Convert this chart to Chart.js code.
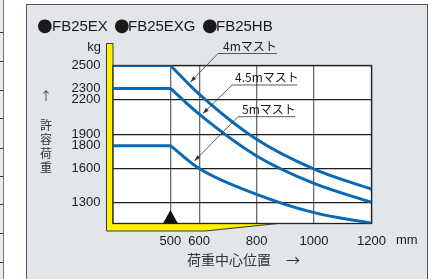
<!DOCTYPE html>
<html>
<head>
<meta charset="utf-8">
<script src="https://cdn.jsdelivr.net/npm/chart.js@4"></script>
<style>
  html, body { margin: 0; padding: 0; background: #fff; }
  canvas { display: block; }
</style>
</head>
<body>
<canvas id="load-chart" width="437" height="279"></canvas>
<script>
// load centre (mm) and allowable load (kg) per mast height
const loadCenters = [500, 600, 800, 1000, 1200];
const mast4m = [2500, 2250, 1855, 1595, 1420];
const mast45m = [2300, 2075, 1710, 1470, 1305];
const mast5m = [1800, 1600, 1375, 1215, 1122];

const xMin = 300;
const xMax = 1200;
const yMin = 1120;
const yMax = 2500;
const xTicks = [500, 600, 800, 1000, 1200];
const yTicks = [1300, 1600, 1800, 1900, 2200, 2300, 2500];
const yGridLines = [1300, 1600, 1900, 2200, 2500];

const models = ['FB25EX', 'FB25EXG', 'FB25HB'];
const mastNames = ['4mマスト', '4.5mマスト', '5mマスト'];

const blue = '#0a69b4';
const textColor = '#1a1a1a';
const font = '"Liberation Sans", Arial, "Noto Sans CJK JP", sans-serif';
const jpFont = '"Noto Sans CJK JP", "Liberation Sans", sans-serif';

function curve(values) {
    return {
        data: loadCenters.map((x, i) => ({x: x, y: values[i]})),
        borderColor: blue,
        borderWidth: 3,
        pointRadius: 0,
        cubicInterpolationMode: 'monotone',
        borderCapStyle: 'butt'
    };
}

function flat(values) {
    return {
        data: [{x: xMin, y: values[0]}, {x: loadCenters[0], y: values[0]}],
        borderColor: blue,
        borderWidth: 3,
        pointRadius: 0,
        tension: 0
    };
}

const decorations = {
    id: 'decorations',
    beforeDraw(chart) {
        const c = chart.ctx;
        const a = chart.chartArea;
        c.save();
        c.fillStyle = '#fff';
        c.fillRect(0, 0, chart.width, chart.height);

        // table edge on the far left
        c.fillStyle = '#e9e9e9';
        c.fillRect(0, 0, 3, chart.height);
        c.strokeStyle = '#333';
        c.lineWidth = 1;
        [32, 61, 90, 118, 148, 176, 204, 233, 262].forEach(y => {
            c.beginPath();
            c.moveTo(0, y + 0.5);
            c.lineTo(3.5, y + 0.5);
            c.stroke();
        });
        c.strokeStyle = '#777';
        c.beginPath();
        c.moveTo(3.5, 0);
        c.lineTo(3.5, chart.height);
        c.stroke();

        // panel
        c.fillStyle = '#e2e6ea';
        c.fillRect(26, 4, 401, 280);
        c.strokeStyle = '#555';
        c.strokeRect(26.5, 4.5, 401, 290);

        // yellow frame
        c.beginPath();
        c.moveTo(106.5, 43.5);
        c.lineTo(a.left, 43.5);
        c.lineTo(a.left, a.bottom);
        c.lineTo(278, a.bottom);
        c.lineTo(205, 231);
        c.lineTo(106.5, 231);
        c.closePath();
        c.fillStyle = '#fff200';
        c.fill();
        c.strokeStyle = '#3a3a3a';
        c.lineWidth = 1;
        c.stroke();

        // plot background
        c.fillStyle = '#fff';
        c.fillRect(a.left, a.top, a.right - a.left, a.bottom - a.top);

        // model names
        c.fillStyle = textColor;
        c.textBaseline = 'middle';
        c.textAlign = 'left';
        const dotX = [37, 114, 202];
        const nameX = [52, 128, 216];
        models.forEach((m, i) => {
            c.font = '18px "DejaVu Sans", sans-serif';
            c.fillText('●', dotX[i], 26.5);
            c.font = '15px ' + font;
            c.fillText(m, nameX[i], 26.5);
        });

        c.font = '13px ' + font;
        c.textAlign = 'right';
        c.fillText('kg', 101, 47.5);
        c.textAlign = 'left';
        c.fillText('mm', 396, 240.5);

        c.fillStyle = '#333';
        c.textAlign = 'center';
        c.font = '12px ' + jpFont;
        c.fillText('↑', 46, 96);
        ['許', '容', '荷', '重'].forEach((ch, i) => c.fillText(ch, 46, 125 + i * 14));
        c.textAlign = 'left';
        c.font = '14px ' + jpFont;
        c.fillText('荷重中心位置', 187, 260);
        c.fillText('→', 286, 260);
        c.restore();
    },
    beforeDatasetsDraw(chart) {
        const c = chart.ctx;
        const a = chart.chartArea;
        c.save();
        c.strokeStyle = '#222';
        c.lineWidth = 1.3;
        c.strokeRect(a.left, a.top, a.right - a.left, a.bottom - a.top);
        c.restore();
    },
    afterDatasetsDraw(chart) {
        const c = chart.ctx;
        const a = chart.chartArea;
        const xs = chart.scales.x;
        c.save();
        // load centre marker
        const mx = xs.getPixelForValue(loadCenters[0]);
        c.fillStyle = '#111';
        c.beginPath();
        c.moveTo(mx - 7.5, a.bottom);
        c.lineTo(mx + 7.5, a.bottom);
        c.lineTo(mx, a.bottom - 13.5);
        c.closePath();
        c.fill();

        // mast labels with leader lines
        const notes = [
            {tx: 223, ty: 46.5, u0: 218, u1: 277, uy: 53.5, px: 190.5, py: 82},
            {tx: 235, ty: 77.5, u0: 232, u1: 297, uy: 85, px: 203, py: 113.5},
            {tx: 242, ty: 109, u0: 238, u1: 295, uy: 116.7, px: 194.5, py: 161}
        ];
        c.font = '12px ' + jpFont;
        c.textBaseline = 'middle';
        c.textAlign = 'left';
        notes.forEach((n, i) => {
            c.fillStyle = textColor;
            c.fillText(mastNames[i], n.tx, n.ty);
            c.strokeStyle = '#333';
            c.lineWidth = 0.8;
            c.beginPath();
            c.moveTo(n.u1, n.uy);
            c.lineTo(n.u0, n.uy);
            c.lineTo(n.px, n.py);
            c.stroke();
            const ang = Math.atan2(n.py - n.uy, n.px - n.u0);
            c.fillStyle = '#333';
            c.beginPath();
            c.moveTo(n.px, n.py);
            c.lineTo(n.px - 6 * Math.cos(ang) + 2 * Math.sin(ang), n.py - 6 * Math.sin(ang) - 2 * Math.cos(ang));
            c.lineTo(n.px - 6 * Math.cos(ang) - 2 * Math.sin(ang), n.py - 6 * Math.sin(ang) + 2 * Math.cos(ang));
            c.closePath();
            c.fill();
        });
        c.restore();
    }
};

const chart = new Chart(document.getElementById('load-chart'), {
    type: 'line',
    data: {
        datasets: [
            flat(mast4m), curve(mast4m),
            flat(mast45m), curve(mast45m),
            flat(mast5m), curve(mast5m)
        ]
    },
    options: {
        responsive: false,
        devicePixelRatio: 1,
        animation: false,
        layout: {
            padding: {left: 0, top: 65.5, right: 65.5, bottom: 0}
        },
        plugins: {
            legend: {display: false},
            tooltip: {enabled: false}
        },
        scales: {
            x: {
                type: 'linear',
                min: xMin,
                max: xMax,
                afterBuildTicks: s => { s.ticks = xTicks.map(v => ({value: v})); },
                afterFit: s => { s.height = 55.5; },
                border: {display: false},
                grid: {color: '#6c6c6c', lineWidth: 1.3, drawTicks: false},
                ticks: {
                    autoSkip: false,
                    maxRotation: 0,
                    padding: 10,
                    color: textColor,
                    font: {family: font, size: 13},
                    callback: v => String(v)
                }
            },
            y: {
                min: yMin,
                max: yMax,
                afterBuildTicks: s => { s.ticks = yTicks.map(v => ({value: v})); },
                afterFit: s => { s.width = 113; },
                border: {display: false},
                grid: {
                    color: ctx => yGridLines.includes(ctx.tick.value) ? '#1e1e1e' : 'rgba(0,0,0,0)',
                    lineWidth: 1.2,
                    drawTicks: false
                },
                ticks: {
                    autoSkip: false,
                    padding: 12.5,
                    color: textColor,
                    font: {family: font, size: 13},
                    callback: v => String(v)
                }
            }
        }
    },
    plugins: [decorations]
});
</script>
</body>
</html>
